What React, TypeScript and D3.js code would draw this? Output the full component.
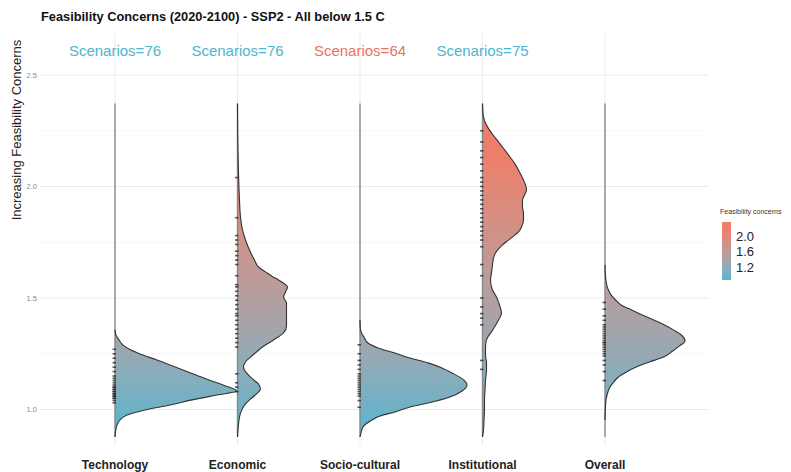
import React from "react";
import * as d3 from "d3";

const categories = ["Technology", "Economic", "Socio-cultural", "Institutional", "Overall"];
const scenarioCounts = [76, 76, 64, 75];
const scenarioHighlight = [false, false, true, false];
const yTicks = [1.0, 1.5, 2.0, 2.5];
const yMinorTicks = [1.25, 1.75, 2.25];
const legendTicks = [1.2, 1.6, 2.0];

// density profiles: [value, density]
const technologyDensity: [number, number][] = [
  [0.877, 0], [0.908, 0.04], [0.93, 0.1], [0.953, 0.25], [0.975, 0.6], [0.998, 1.5], [1.02, 2.75],
  [1.043, 3.85], [1.065, 5.1], [1.083, 6.1], [1.11, 5.4], [1.132, 4.7], [1.155, 4.05], [1.177, 3.4],
  [1.2, 2.75], [1.222, 2.1], [1.244, 1.4], [1.267, 0.8], [1.289, 0.4], [1.312, 0.2], [1.334, 0.05],
  [1.357, 0], [2.372, 0],
];
const economicDensity: [number, number][] = [
  [0.877, 0], [0.908, 0.025], [0.953, 0.075], [0.984, 0.15], [1.02, 0.35], [1.043, 0.6], [1.07, 0.95],
  [1.092, 1.15], [1.114, 1.05], [1.137, 0.75], [1.164, 0.45], [1.191, 0.3], [1.213, 0.4], [1.235, 0.65],
  [1.258, 0.95], [1.28, 1.25], [1.312, 1.8], [1.343, 2.3], [1.374, 2.45], [1.41, 2.45], [1.446, 2.45],
  [1.478, 2.45], [1.504, 2.3], [1.527, 2.4], [1.549, 2.5], [1.567, 2.3], [1.581, 2.05], [1.599, 1.7],
  [1.617, 1.4], [1.639, 1.05], [1.67, 0.85], [1.715, 0.6], [1.76, 0.4], [1.805, 0.25], [1.863, 0.15],
  [1.939, 0.1], [2.029, 0.06], [2.119, 0.035], [2.208, 0.015], [2.298, 0.005], [2.372, 0],
];
const socioDensity: [number, number][] = [
  [0.877, 0], [0.895, 0.05], [0.922, 0.15], [0.953, 0.6], [0.971, 1.0], [0.989, 1.75], [1.011, 2.5],
  [1.029, 3.4], [1.056, 4.5], [1.083, 5.1], [1.11, 5.35], [1.132, 5.2], [1.164, 4.6], [1.186, 4.1],
  [1.209, 3.4], [1.231, 2.5], [1.253, 1.75], [1.276, 0.9], [1.298, 0.4], [1.325, 0.2], [1.343, 0.075],
  [1.365, 0.015], [1.401, 0], [2.372, 0],
];
const institutionalDensity: [number, number][] = [
  [0.877, 0], [0.908, 0.05], [0.953, 0.075], [0.998, 0.1], [1.043, 0.1], [1.087, 0.125], [1.132, 0.15],
  [1.177, 0.2], [1.209, 0.2], [1.244, 0.15], [1.28, 0.15], [1.312, 0.2], [1.33, 0.3], [1.348, 0.45],
  [1.37, 0.6], [1.401, 0.8], [1.433, 0.95], [1.469, 0.85], [1.504, 0.7], [1.536, 0.5], [1.581, 0.4],
  [1.612, 0.45], [1.648, 0.5], [1.679, 0.55], [1.702, 0.65], [1.72, 0.8], [1.738, 1.0], [1.756, 1.25],
  [1.774, 1.5], [1.796, 1.8], [1.818, 1.95], [1.85, 2.05], [1.881, 2.05], [1.908, 2.0], [1.939, 2.0],
  [1.962, 2.1], [1.984, 2.2], [2.007, 2.15], [2.029, 2.05], [2.065, 1.85], [2.105, 1.6], [2.141, 1.3],
  [2.177, 1.0], [2.217, 0.65], [2.253, 0.35], [2.285, 0.15], [2.312, 0.05], [2.343, 0.015], [2.372, 0],
];
const overallDensity: [number, number][] = [
  [0.877, 0], [0.953, 0], [0.998, 0.015], [1.043, 0.05], [1.074, 0.13], [1.096, 0.22], [1.119, 0.4],
  [1.146, 0.67], [1.168, 1.07], [1.191, 1.56], [1.213, 2.22], [1.235, 2.93], [1.262, 3.38], [1.285, 3.73],
  [1.307, 4.0], [1.334, 3.82], [1.357, 3.42], [1.379, 2.98], [1.401, 2.44], [1.424, 1.87], [1.446, 1.33],
  [1.469, 0.8], [1.491, 0.53], [1.513, 0.31], [1.545, 0.13], [1.581, 0.045], [1.612, 0.013], [1.648, 0],
  [2.372, 0],
];
const densities = [technologyDensity, economicDensity, socioDensity, institutionalDensity, overallDensity];

// scenario values (rug marks)
const technologyRug = [1.03, 1.04, 1.05, 1.05, 1.06, 1.06, 1.07, 1.07, 1.08, 1.08, 1.09, 1.09, 1.1, 1.1, 1.11, 1.12, 1.13, 1.14, 1.15, 1.17, 1.19, 1.21, 1.23, 1.25, 1.27];
const economicRug = [2.04, 1.86, 1.78, 1.76, 1.74, 1.71, 1.69, 1.67, 1.65, 1.6, 1.56, 1.55, 1.53, 1.51, 1.49, 1.47, 1.45, 1.43, 1.42, 1.4, 1.38, 1.36, 1.34, 1.32, 1.3, 1.28, 1.16, 1.12, 1.1, 1.08];
const socioRug = [1.01, 1.04, 1.06, 1.07, 1.08, 1.09, 1.1, 1.11, 1.12, 1.13, 1.14, 1.15, 1.16, 1.18, 1.2, 1.22, 1.25, 1.29];
const institutionalRug = [2.25, 2.2, 2.16, 2.13, 2.1, 2.07, 2.04, 2.02, 2.0, 1.98, 1.96, 1.94, 1.92, 1.9, 1.88, 1.86, 1.84, 1.82, 1.8, 1.78, 1.76, 1.73, 1.65, 1.6, 1.5, 1.46, 1.43, 1.41, 1.38, 1.22, 1.18];
const overallRug = [1.48, 1.45, 1.42, 1.4, 1.38, 1.37, 1.36, 1.35, 1.34, 1.33, 1.32, 1.31, 1.3, 1.3, 1.29, 1.28, 1.27, 1.26, 1.25, 1.24, 1.22, 1.2, 1.17, 1.13];
const rugs = [technologyRug, economicRug, socioRug, institutionalRug, overallRug];

const FONT = "'Liberation Sans', Arial, Helvetica, sans-serif";
const LOW = "#4FB6D1";
const HIGH = "#EE7E6B";

export default function App() {
  const W = 791, H = 472;
  const panel = { left: 40, right: 708, top: 33, bottom: 445 };
  const y = d3.scaleLinear().domain([1.0, 2.5]).range([409.5, 75]);
  const x = d3.scalePoint<string>().domain(categories).range([115, 605]);
  const w = d3.scaleLinear().domain([0, 6.1]).range([0, 122]);
  const color = d3.scaleLinear<string>().domain([0.88, 2.15]).range([LOW, HIGH]).interpolate(d3.interpolateLab).clamp(true);
  const stops = d3.range(0, 31).map((i) => {
    const v = 0.87 + (i / 30) * 1.5;
    return { offset: i / 30, c: color(v) };
  });
  const legendY = d3.scaleLinear().domain([0.87, 2.37]).range([280, 222]);

  return (
    <svg width={W} height={H} style={{ position: "absolute", left: 0, top: 0, background: "#fff" }} fontFamily={FONT}>
      <defs>
        <linearGradient id="vg" gradientUnits="userSpaceOnUse" x1={0} x2={0} y1={y(0.87)} y2={y(2.37)}>
          {stops.map((s, i) => <stop key={i} offset={s.offset} stopColor={s.c} />)}
        </linearGradient>
        <linearGradient id="lg" gradientUnits="userSpaceOnUse" x1={0} x2={0} y1={legendY(0.87)} y2={legendY(2.37)}>
          {stops.map((s, i) => <stop key={i} offset={s.offset} stopColor={s.c} />)}
        </linearGradient>
      </defs>
      <rect x={0} y={0} width={W} height={H} fill="#fff" />
      {/* grid */}
      {yMinorTicks.map((t) => (
        <line key={"mi" + t} x1={panel.left} x2={panel.right} y1={y(t)} y2={y(t)} stroke="#F4F4F4" strokeWidth={0.8} />
      ))}
      {yTicks.map((t) => (
        <line key={"ma" + t} x1={panel.left} x2={panel.right} y1={y(t)} y2={y(t)} stroke="#EBEBEB" strokeWidth={1} />
      ))}
      {categories.map((c) => (
        <line key={"vg" + c} x1={x(c)} x2={x(c)} y1={panel.top} y2={panel.bottom} stroke="#EBEBEB" strokeWidth={1} />
      ))}
      {/* y tick labels */}
      {yTicks.map((t) => (
        <text key={"yt" + t} x={37} y={y(t)} dy="0.35em" textAnchor="end" fontSize={7.5} fill="#8a8a8a">
          {t.toFixed(1)}
        </text>
      ))}
      {/* violins */}
      {categories.map((c, i) => {
        const cx = x(c) as number;
        const data = densities[i].slice().sort((a, b) => b[0] - a[0]);
        const area = d3.area<[number, number]>()
          .y((d) => y(d[0]))
          .x0(cx)
          .x1((d) => cx + w(d[1]))
          .curve(d3.curveMonotoneY);
        const line = d3.line<[number, number]>()
          .y((d) => y(d[0]))
          .x((d) => cx + w(d[1]))
          .defined((d, k) => d[1] > 0 || (k > 0 && data[k - 1][1] > 0) || (k < data.length - 1 && data[k + 1][1] > 0))
          .curve(d3.curveMonotoneY);
        const ext = d3.extent(data, (d) => d[0]) as [number, number];
        return (
          <g key={"v" + c}>
            <path d={area(data) || ""} fill="url(#vg)" />
            <line x1={cx} x2={cx} y1={y(ext[0])} y2={y(ext[1])} stroke="#888" strokeWidth={1.4} />
            <path d={line(data) || ""} fill="none" stroke="#333" strokeWidth={1.1} />
            {rugs[i].map((v, k) => (
              <rect key={k} x={cx - 2.5} y={y(v) - 0.8} width={3.5} height={1.6} fill="#1a1a1a" opacity={0.7} />
            ))}
          </g>
        );
      })}
      {/* scenario labels */}
      {scenarioCounts.map((n, i) => (
        <text key={"s" + i} x={x(categories[i])} y={56} textAnchor="middle" fontSize={15}
          fill={scenarioHighlight[i] ? "#E8735E" : "#4DB5CF"}>
          {`Scenarios=${n}`}
        </text>
      ))}
      {/* x labels */}
      {categories.map((c) => (
        <text key={"xl" + c} x={x(c)} y={469} textAnchor="middle" fontSize={12} fontWeight="bold" fill="#222">
          {c}
        </text>
      ))}
      {/* title */}
      <text x={41} y={21} fontSize={12.8} fontWeight="bold" fill="#111">
        Feasibility Concerns (2020-2100) - SSP2 - All below 1.5 C
      </text>
      {/* y axis title */}
      <text transform={`translate(21,130) rotate(-90)`} textAnchor="middle" fontSize={13} fill="#222">
        Increasing Feasibility Concerns
      </text>
      {/* legend */}
      <text x={720} y={214} fontSize={7} fill="#333">Feasibility concerns</text>
      <rect x={722} y={legendY(2.37)} width={9} height={legendY(0.87) - legendY(2.37)} fill="url(#lg)" />
      {legendTicks.map((t) => (
        <text key={"lt" + t} x={736} y={legendY(t)} dy="0.35em" fontSize={13} fill="#222">
          {t.toFixed(1)}
        </text>
      ))}
    </svg>
  );
}
